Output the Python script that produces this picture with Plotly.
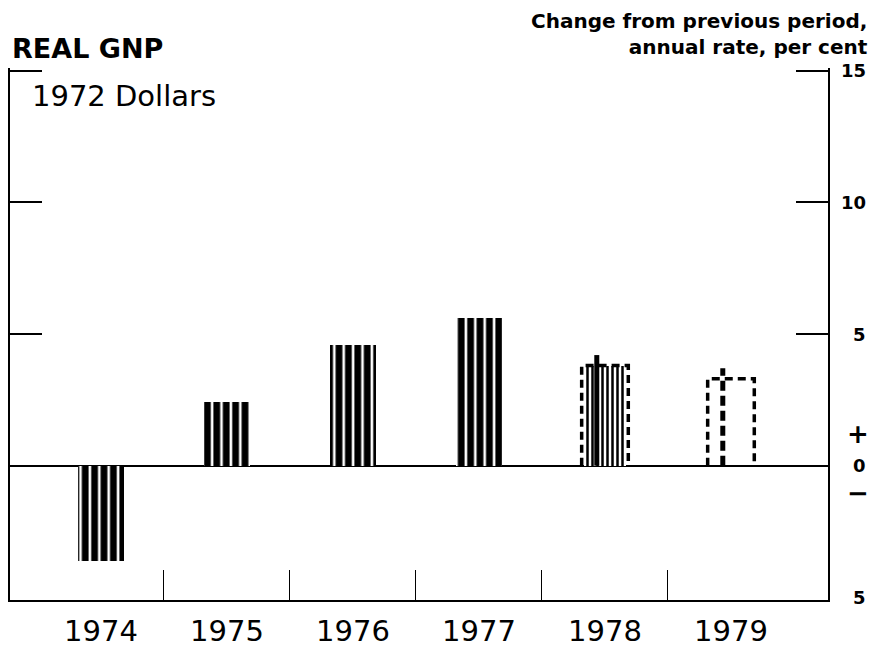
import plotly.graph_objects as go

# data
years = ["1974", "1975", "1976", "1977", "1978", "1979"]
growth = [-3.6, 2.4, 4.6, 5.6, 3.8, 3.3]          # per cent change
high_mark = [None, None, None, None, 4.2, 3.7]     # upper tick on projected bars
n_actual = 4                                       # 1974-1977 actual, rest projected
y_tickvals = [15, 10, 5, 0, -5]
y_ticktext = ["15", "10", "5", "0", "5"]

bar_w = 0.37
x = list(range(len(years)))

fig = go.Figure()

# actual years: black bars with thin white stripes
fig.add_trace(go.Bar(
    x=x[:n_actual], y=growth[:n_actual], width=bar_w,
    marker=dict(color="black", line=dict(width=0),
                pattern=dict(shape="|", fgcolor="white", bgcolor="black",
                             size=9.4, solidity=0.28, fillmode="replace")),
    showlegend=False))

# 1978: finer stripes
fig.add_trace(go.Bar(
    x=[x[4]], y=[growth[4]], width=bar_w * 0.9,
    marker=dict(color="black", line=dict(width=0),
                pattern=dict(shape="|", fgcolor="black", bgcolor="white",
                             size=5, solidity=0.5, fillmode="replace")),
    showlegend=False))

# dashed outlines and centre marks for projected years
for i in range(n_actual, len(years)):
    v = growth[i]
    fig.add_trace(go.Scatter(
        x=[x[i] - bar_w / 2, x[i] - bar_w / 2, x[i] + bar_w / 2, x[i] + bar_w / 2],
        y=[0, v, v, 0], mode="lines",
        line=dict(color="black", width=3.5, dash="8px,5px"),
        showlegend=False, hoverinfo="skip"))
    xm = x[i] - 0.065
    fig.add_trace(go.Scatter(
        x=[xm, xm], y=[0, high_mark[i]], mode="lines",
        line=dict(color="black", width=5,
                  dash="solid" if i == 4 else "10px,5px"),
        showlegend=False, hoverinfo="skip"))

# the page body keeps its 8px margin, so the figure is drawn 8px smaller
fig.update_layout(
    width=868, height=642,
    margin=dict(l=2, r=48, t=60, b=47),
    paper_bgcolor="white", plot_bgcolor="white",
    font=dict(family="DejaVu Sans", color="black"),
    bargap=0,
)

fig.update_xaxes(
    range=[-0.722, 5.77], tickmode="array", tickvals=x, ticktext=years,
    ticks="", tickfont=dict(size=29, family="DejaVu Sans"),
    ticklabelstandoff=4,
    showline=True, linecolor="black", linewidth=2, mirror=False,
    showgrid=False, zeroline=False,
    minor=dict(tickmode="array", tickvals=[i + 0.5 for i in x[:-1]],
               ticks="inside", ticklen=30, tickwidth=1.2, tickcolor="black"),
)

fig.update_yaxes(
    range=[-5.1, 15.1], tickmode="array", tickvals=y_tickvals[:3],
    ticks="inside", ticklen=32, tickwidth=2, tickcolor="black",
    showticklabels=False,
    showline=True, linecolor="black", linewidth=2, mirror="ticks",
    showgrid=False, zeroline=True, zerolinecolor="black", zerolinewidth=1.5,
)

# right-hand labels
for v, t in zip(y_tickvals, y_ticktext):
    fig.add_annotation(x=1, xref="paper", y=v, yref="y", text=t,
                       showarrow=False, xanchor="right", xshift=40,
                       font=dict(size=18, family="DejaVu Sans", weight="bold"))
fig.add_annotation(x=1, xref="paper", y=1.2, yref="y", text="+",
                   showarrow=False, xanchor="right", xshift=43,
                   font=dict(size=26, family="DejaVu Sans", weight="bold"))
fig.add_annotation(x=1, xref="paper", y=-1.05, yref="y", text="−",
                   showarrow=False, xanchor="right", xshift=43,
                   font=dict(size=26, family="DejaVu Sans", weight="bold"))

fig.add_annotation(x=0, xref="paper", xanchor="left", y=1, yref="paper",
                   yanchor="bottom", yshift=2, text="REAL GNP", showarrow=False,
                   font=dict(size=27, family="DejaVu Sans", weight="bold"))
fig.add_annotation(x=0, xref="paper", xanchor="left", xshift=20,
                   y=1, yref="paper", yanchor="top", yshift=-9,
                   text="1972 Dollars", showarrow=False,
                   font=dict(size=29, family="DejaVu Sans"))
fig.add_annotation(x=1, xref="paper", xanchor="right", xshift=42,
                   y=1, yref="paper", yanchor="bottom", yshift=7,
                   text="Change from previous period,<br>annual rate, per cent",
                   align="right", showarrow=False,
                   font=dict(size=20, family="DejaVu Sans", weight="bold"))

fig.write_html("out.html", config={"displayModeBar": False})
